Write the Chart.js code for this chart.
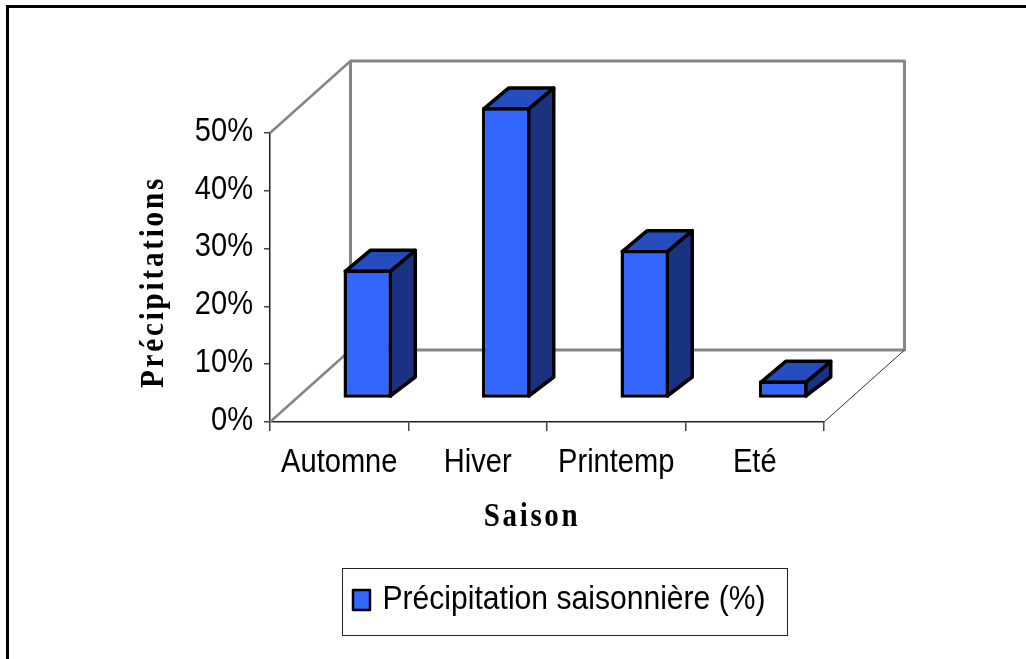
<!DOCTYPE html>
<html><head><meta charset="utf-8">
<style>html,body{margin:0;padding:0;background:#fff}canvas{display:block}</style>
<script src="https://cdn.jsdelivr.net/npm/chart.js@4"></script>
</head><body>
<canvas id="c" width="1026" height="659"></canvas>
<script>
const categories = ['Automne', 'Hiver', 'Printemp', 'Eté'];
const seriesName = 'Précipitation saisonnière (%)';
const seriesValues = [22.3, 50.4, 25.7, 3.1];
const yTicks = [0, 10, 20, 30, 40, 50];
const yTitle = 'Précipitations';
const xTitle = 'Saison';

const FRONT = '#3366FF', SIDE = '#1A3380', TOP = '#264DBF', EDGE = '#000000';
const WALL = {dx: 80.5, dy: -72};
const BAR_SHIFT = {dx: 28.5, dy: -23.5};
const BAR_DEPTH = {dx: 25, dy: -21};
const BAR_LINE = 3.5;
const TICK_FONT = {family: '"Liberation Sans", Arial, sans-serif', size: 34};
const TITLE_FONT = {family: '"Liberation Serif", "Times New Roman", serif', size: 33, weight: 'bold'};

function poly(ctx, pts, fill, stroke, lw) {
  ctx.beginPath();
  pts.forEach((p, i) => i ? ctx.lineTo(p[0], p[1]) : ctx.moveTo(p[0], p[1]));
  if (fill) { ctx.closePath(); ctx.fillStyle = fill; ctx.fill(); }
  if (stroke) { ctx.strokeStyle = stroke; ctx.lineWidth = lw; ctx.lineJoin = 'round'; ctx.stroke(); }
}
function wrapTitle(scale, spacing, dx, dy) {
  if (scale._wrapped) return;
  scale._wrapped = true;
  const orig = scale.drawTitle;
  scale.drawTitle = function () {
    const ctx = this.ctx;
    ctx.save();
    ctx.letterSpacing = spacing;
    ctx.translate(dx, dy);
    orig.call(this);
    ctx.restore();
  };
}
// The reference text is horizontally condensed: narrow every string along its own direction.
function condenseText(ctx) {
  const ft = ctx.fillText.bind(ctx);
  ctx.fillText = function (s, x, y, w) {
    const serif = ctx.font.includes('Serif');
    const sx = serif ? 0.88 : (s === seriesName ? 0.885 : 0.855);
    const yy = (!serif && String(s).endsWith('%')) ? y - 1.5 : y;
    ctx.save();
    ctx.translate(x, yy);
    ctx.scale(sx, 1);
    if (w === undefined) ft(s, 0, 0); else ft(s, 0, 0, w);
    ctx.restore();
  };
}
const threeD = {
  id: 'threeD',
  beforeInit(chart) { condenseText(chart.ctx); },
  afterLayout(chart) {
    const lg = chart.legend;
    lg.left = 345.5; lg.right = 788; lg.top = 574; lg.bottom = 632;
    wrapTitle(chart.scales.x, '3px', -15, 0);
    wrapTitle(chart.scales.y, '3.2px', 1, 4.5);
  },
  beforeDraw(chart) {
    const ctx = chart.ctx;
    ctx.save();
    ctx.fillStyle = '#fff';
    ctx.fillRect(0, 0, chart.width, chart.height);
    ctx.fillStyle = '#000';
    ctx.fillRect(6, 5, chart.width - 6, 3);
    ctx.fillRect(6, 5, 3, chart.height - 5);
    ctx.strokeStyle = '#222';
    ctx.lineWidth = 1;
    ctx.strokeRect(342.5, 568.5, 445, 67);
    ctx.restore();
  },
  beforeDatasetsDraw(chart) {
    const ctx = chart.ctx, a = chart.chartArea;
    const bx = a.left + WALL.dx, bxr = a.right + WALL.dx, by = a.top + WALL.dy, byb = a.bottom + WALL.dy;
    ctx.save();
    poly(ctx, [[bx, byb], [bx, by], [bxr, by], [bxr, byb], [bx, byb]], null, '#858585', 3);
    poly(ctx, [[a.left, a.top], [bx, by]], null, '#858585', 2.5);
    poly(ctx, [[a.left, a.bottom], [bx, byb]], null, '#858585', 2.5);
    poly(ctx, [[a.right, a.bottom], [bxr, byb]], null, '#333', 1);
    ctx.restore();
  },
  beforeDatasetDraw(chart) {
    const ctx = chart.ctx;
    ctx.save();
    ctx.translate(BAR_SHIFT.dx, BAR_SHIFT.dy);
    chart.getDatasetMeta(0).data.forEach(el => {
      const p = el.getProps(['x', 'y', 'base', 'width'], true);
      const h = BAR_LINE / 2;
      const l = p.x - p.width / 2 + h, r = p.x + p.width / 2 - h, t = p.y + h, b = p.base - h;
      const d = BAR_DEPTH;
      poly(ctx, [[r, t], [r + d.dx, t + d.dy], [r + d.dx, b + d.dy + 2], [r, b], [r, t]], SIDE, EDGE, BAR_LINE);
      poly(ctx, [[l, t], [l + d.dx, t + d.dy], [r + d.dx, t + d.dy], [r, t], [l, t]], TOP, EDGE, BAR_LINE);
    });
  },
  afterDatasetDraw(chart) {
    chart.ctx.restore();
  },
  afterDraw(chart) {
    const ctx = chart.ctx;
    ctx.save();
    ctx.fillStyle = FRONT;
    ctx.strokeStyle = EDGE;
    ctx.lineWidth = 2.5;
    ctx.lineJoin = 'round';
    ctx.beginPath();
    ctx.rect(353, 590, 17, 20);
    ctx.fill();
    ctx.stroke();
    ctx.restore();
  }
};

new Chart(document.getElementById('c'), {
  type: 'bar',
  data: {
    labels: categories,
    datasets: [{
      label: seriesName,
      data: seriesValues,
      backgroundColor: FRONT,
      borderColor: EDGE,
      borderWidth: BAR_LINE,
      borderSkipped: false,
      barPercentage: 0.35,
      categoryPercentage: 1,
      clip: false
    }]
  },
  plugins: [threeD],
  options: {
    responsive: false,
    animation: false,
    layout: {padding: {left: 0, right: 202, top: 133, bottom: 0}},
    plugins: {
      tooltip: {enabled: false},
      legend: {
        display: true,
        position: 'chartArea',
        align: 'start',
        labels: {
          font: TICK_FONT,
          color: '#000',
          boxWidth: 11,
          boxHeight: 14,
          padding: 9
        }
      }
    },
    scales: {
      x: {
        afterFit(s) { s.height = 237; },
        grid: {drawOnChartArea: false, tickLength: 9, color: '#444', lineWidth: 1.5},
        border: {color: '#222', width: 1.5},
        ticks: {font: TICK_FONT, color: '#000', padding: 11, maxRotation: 0, autoSkip: false},
        title: {display: true, text: xTitle, font: TITLE_FONT, color: '#000', padding: {top: 0, bottom: 121.5}}
      },
      y: {
        min: 0, max: 50,
        afterFit(s) { s.width = 270; },
        afterBuildTicks(s) { s.ticks = yTicks.map(v => ({value: v})); },
        grid: {drawOnChartArea: false, tickLength: 6, color: '#444', lineWidth: 1.5},
        border: {color: '#222', width: 1.5},
        ticks: {font: TICK_FONT, color: '#000', padding: 11, callback: v => v + '%'},
        title: {display: true, text: yTitle, font: TITLE_FONT, color: '#000', padding: {top: 134, bottom: 0}}
      }
    }
  }
});
</script>
</body></html>
